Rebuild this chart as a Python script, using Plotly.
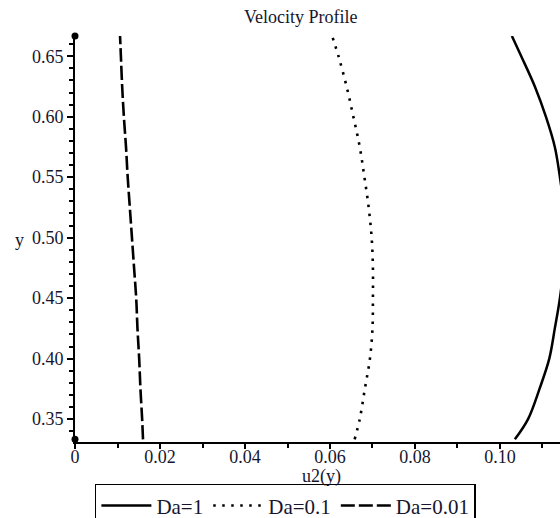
import plotly.graph_objects as go

# Velocity profile u2(y) across the channel for three Darcy numbers
y_pts = [0.3333, 0.35, 0.375, 0.40, 0.425, 0.45, 0.475, 0.50,
         0.525, 0.55, 0.575, 0.60, 0.625, 0.65, 0.6667]

u2_da_1 = [0.1035, 0.1066, 0.1093, 0.1116, 0.1129, 0.1141, 0.1149, 0.1153,
           0.1150, 0.1141, 0.1129, 0.1108, 0.1082, 0.1050, 0.1028]
u2_da_01 = [0.0658, 0.0670, 0.0682, 0.0694, 0.0700, 0.0701, 0.0701, 0.0698,
            0.0691, 0.0681, 0.0670, 0.0655, 0.0639, 0.0620, 0.0605]
u2_da_001 = [0.0160, 0.0158, 0.0154, 0.0151, 0.0147, 0.0144, 0.0139, 0.0134,
             0.0129, 0.0124, 0.0120, 0.0115, 0.0111, 0.0108, 0.0106]

series_names = ["Da=1", "Da=0.1", "Da=0.01"]
x_ticks = [0, 0.02, 0.04, 0.06, 0.08, 0.10]
x_tick_text = ["0", "0.02", "0.04", "0.06", "0.08", "0.10"]
y_ticks = [0.35, 0.40, 0.45, 0.50, 0.55, 0.60, 0.65]
y_tick_text = ["0.35", "0.40", "0.45", "0.50", "0.55", "0.60", "0.65"]
y_domain = [1 / 3, 2 / 3]

SERIF = "Liberation Serif, Times New Roman, serif"
INK = "#16162e"

fig = go.Figure()

styles = [
    dict(width=2.5, dash="solid"),
    dict(width=2.6, dash="2.5px,6.5px"),
    dict(width=2.6, dash="14px,4px"),
]
for name, xs, st in zip(series_names, [u2_da_1, u2_da_01, u2_da_001], styles):
    fig.add_trace(go.Scatter(
        x=xs, y=y_pts, mode="lines", name=name,
        line=dict(color="black", shape="spline", **st),
        hoverinfo="skip",
    ))

# end markers on the y axis at the domain limits
fig.add_trace(go.Scatter(
    x=[0, 0], y=y_domain, mode="markers", showlegend=False,
    marker=dict(color="black", size=7), cliponaxis=False, hoverinfo="skip",
))

tick_font = dict(family=SERIF, size=18, color=INK)

fig.update_layout(
    width=560, height=518,
    margin=dict(l=75, r=0, t=36, b=76, autoexpand=False),
    paper_bgcolor="white", plot_bgcolor="white",
    showlegend=True,
    legend=dict(
        orientation="h", x=0.041, xanchor="left", y=-0.103, yanchor="top",
        bordercolor="black", borderwidth=1.5, bgcolor="white",
        font=dict(family=SERIF, size=21, color=INK),
        itemwidth=50, tracegroupgap=0,
    ),
    xaxis=dict(
        range=[0, 0.11412], showgrid=False, zeroline=False,
        showline=True, linecolor="black", linewidth=2,
        ticks="outside", ticklen=5, tickwidth=1.5, tickcolor="black",
        tickvals=x_ticks, ticktext=x_tick_text, tickfont=tick_font,
        ticklabelstandoff=-8,
        minor=dict(dtick=0.01, tick0=0, ticks="outside", ticklen=4,
                   tickwidth=1.5, tickcolor="black", showgrid=False),
    ),
    yaxis=dict(
        range=[0.3311, 0.6667], showgrid=False, zeroline=False,
        showline=True, linecolor="black", linewidth=2,
        ticks="outside", ticklen=6, tickwidth=1.5, tickcolor="black",
        tickvals=y_ticks, ticktext=y_tick_text, tickfont=tick_font,
        minor=dict(dtick=0.01, tick0=0.35, ticks="outside", ticklen=4,
                   tickwidth=1.5, tickcolor="black", showgrid=False),
    ),
    annotations=[
        dict(text="Velocity Profile", xref="paper", yref="paper",
             x=(300 - 75) / 485, y=1, yshift=19, xanchor="center", yanchor="middle",
             showarrow=False, font=dict(family=SERIF, size=18, color=INK)),
        dict(text="u2(y)", xref="paper", yref="paper",
             x=(321 - 75) / 485, y=0, yshift=-34, xanchor="center", yanchor="middle",
             showarrow=False, font=dict(family=SERIF, size=18, color=INK)),
        dict(text="y", xref="paper", yref="paper",
             x=(19 - 75) / 485, y=(442 - 240) / 406, xanchor="center", yanchor="middle",
             showarrow=False, font=dict(family=SERIF, size=18, color=INK)),
    ],
)

fig.write_html("out.html", config={"displayModeBar": False})
